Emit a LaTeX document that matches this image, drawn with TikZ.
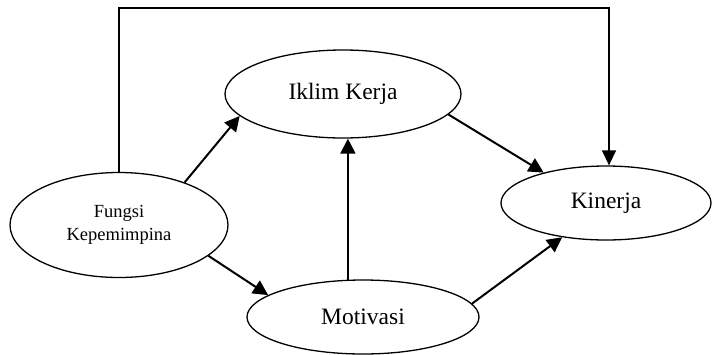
\documentclass[tikz,border=0pt]{standalone}
\usepackage{fontspec}
\setmainfont{Liberation Serif}
\usetikzlibrary{shapes.geometric,arrows.meta}
\begin{document}
\begin{tikzpicture}[x=1pt,y=-1pt,
  oval/.style={draw,ellipse,line width=1.3pt,inner sep=0pt,font=\fontsize{23.5}{28}\selectfont},
  arr/.style={line width=2pt,-{Triangle[length=15pt,width=15pt]}},
  plain/.style={line width=1.4pt,-{Triangle[length=15pt,width=14pt]}}]
\useasboundingbox (0,0) rectangle (712,354);
\node[oval,minimum width=218pt,minimum height=105pt,align=center,font=\fontsize{18.5}{23}\selectfont] (f) at (119,225) {Fungsi\\Kepemimpina};
\node[oval,minimum width=236pt,minimum height=88pt] (i) at (343,94) {Iklim Kerja};
\node[oval,minimum width=232pt,minimum height=74pt] (m) at (363,317) {Motivasi};
\node[oval,minimum width=210pt,minimum height=74pt] (k) at (606,203) {Kinerja};
\coordinate (top) at (0,8);
\draw[plain] (f.north) -- (f.north |- top) -- ([xshift=3pt]k.north |- top) -- ([xshift=3pt]k.north);
\draw[arr] (f.33) -- (i.192);
\draw[arr] (i.-11) -- (k.154);
\draw[arr] (m.112) -- (m.112 |- i.south);
\draw[arr] (f.-19) -- (m.167);
\draw[arr] (m.7) -- (k.218);
\end{tikzpicture}
\end{document}
